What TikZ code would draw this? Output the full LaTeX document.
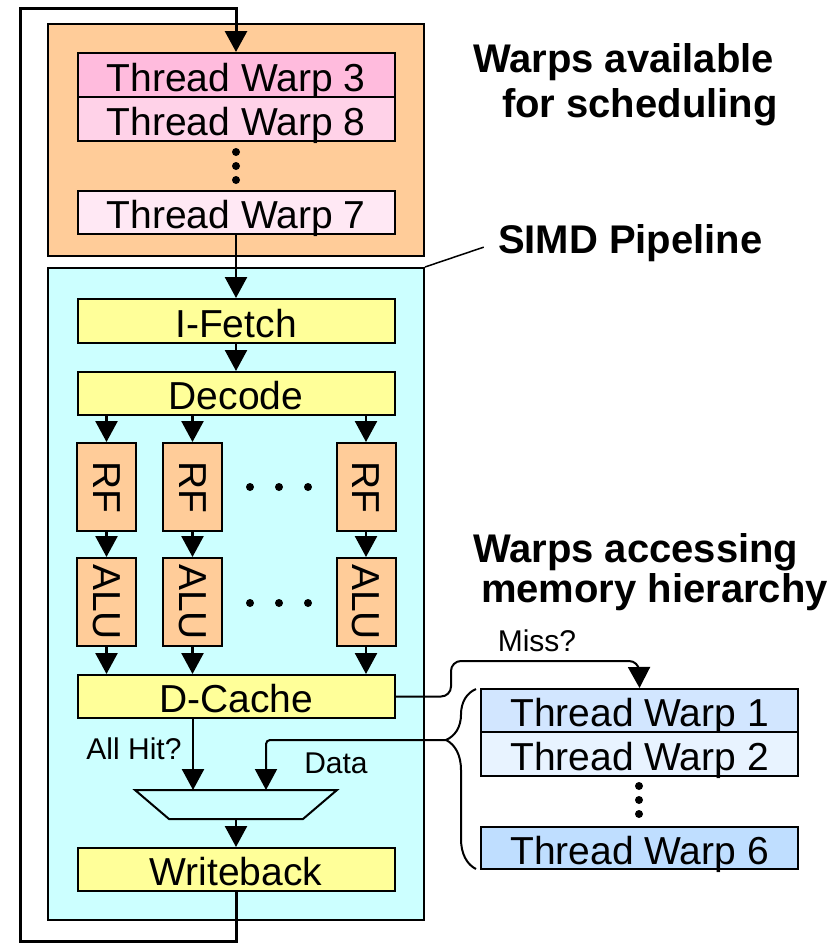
\documentclass[tikz,border=0pt]{standalone}
\usepackage{fontspec}
\setmainfont{Liberation Sans}
\usetikzlibrary{arrows.meta,decorations.pathreplacing}

\definecolor{poolorange}{RGB}{255,204,153}
\definecolor{pipecyan}{RGB}{204,255,255}
\definecolor{stageyellow}{RGB}{255,255,153}
\definecolor{warpthree}{RGB}{255,187,221}
\definecolor{warpeight}{RGB}{255,210,232}
\definecolor{warpseven}{RGB}{255,232,244}
\definecolor{warpone}{RGB}{210,230,255}
\definecolor{warptwo}{RGB}{232,243,255}
\definecolor{warpsix}{RGB}{191,222,255}

\tikzset{every picture/.style={line width=2pt}}
\tikzset{
  box/.style={draw, line width=2pt, inner sep=0pt, font=\fontsize{39}{46}\selectfont},
  pool/.style={draw, line width=2pt, inner sep=0pt},
  stage/.style={box, fill=stageyellow, minimum width=317pt, minimum height=43pt, text height=32pt, text depth=0pt},
  warp/.style={box, minimum width=317pt, minimum height=44pt, text height=32pt, text depth=0pt},
  lane/.style={box, fill=poolorange, minimum width=59pt, minimum height=88pt},
  conn/.style={line width=2.5pt, -{Triangle[length=21pt,width=22pt]}},
  title/.style={font=\bfseries\fontsize{40}{48}\selectfont, inner sep=0pt},
  note/.style={font=\fontsize{30}{36}\selectfont, inner sep=0pt},
}

\begin{document}
\begin{tikzpicture}[x=1pt,y=1pt,yscale=-1,xscale=1]
\useasboundingbox (0,0) rectangle (839,943);

%Shape: scheduling pool
\node [pool, fill=poolorange, minimum width=376pt, minimum height=232pt] (pool) at (236,140) {};
%Shape: SIMD pipeline
\node [pool, fill=pipecyan, minimum width=376pt, minimum height=652pt] (pipe) at (236,594) {};

% Warps waiting
\node [warp, fill=warpthree] (tw3) at (236,75) {Thread Warp 3};
\node [warp, fill=warpeight] (tw8) at (236,119) {Thread Warp 8};
\node [warp, fill=warpseven, minimum height=43pt] (tw7) at (236,212.5) {Thread Warp 7};
\fill (236,152) circle (4) (236,166) circle (4) (236,180) circle (4);

% Pipeline stages
\node [stage, minimum height=44pt] (ifetch) at (236,321) {I-Fetch};
\node [stage] (decode) at (236,393.5) {Decode};
\node [lane] (rf1) at (106.5,487) {\rotatebox{-90}{RF}};
\node [lane] (rf2) at (192.5,487) {\rotatebox{-90}{RF}};
\node [lane] (rf3) at (366,487) {\rotatebox{-90}{RF}};
\node [lane] (alu1) at (106.5,602) {\rotatebox{-90}{ALU}};
\node [lane] (alu2) at (192.5,602) {\rotatebox{-90}{ALU}};
\node [lane] (alu3) at (366,602) {\rotatebox{-90}{ALU}};
\fill (250,487) circle (4) (279,487) circle (4) (308,487) circle (4);
\fill (250,603) circle (4) (279,603) circle (4) (308,603) circle (4);
\node [stage] (dcache) at (236,696.5) {D-Cache};
\node [stage] (wb) at (236,869.5) {Writeback};

%Shape: mux
\draw [fill=pipecyan] (135,790) -- (337,790) -- (303,819) -- (169,819) -- cycle;
\coordinate (muxhit) at (193,790);
\coordinate (muxdata) at (266,790);
\coordinate (muxout) at (236,819);

% Warps in memory
\node [warp, fill=warpone, minimum height=43pt] (tw1) at (639.5,710.5) {Thread Warp 1};
\node [warp, fill=warptwo] (tw2) at (639.5,754) {Thread Warp 2};
\node [warp, fill=warpsix, minimum height=42pt] (tw6) at (639.5,848) {Thread Warp 6};
\fill (639,786) circle (4) (639,800) circle (4) (639,814) circle (4);
\draw [decorate, decoration={brace, amplitude=30pt, aspect=0.717}] (476,869) -- (476,689);
\coordinate (bracetip) at (446,740);

% Text Node
\node [title, anchor=base west] (availa) at (472,72) {Warps available};
\node [title, anchor=base west] (availb) at (501,117) {for scheduling};
\node [title, anchor=base west] (simd) at (497,253) {SIMD Pipeline};
\node [title, anchor=base west] (accessa) at (472,562) {Warps accessing};
\node [title, anchor=base west] (accessb) at (480,602) {memory hierarchy};
\node [note] (hitlbl) at (134,749) {All Hit?};
\node [note] (datalbl) at (336,763) {Data};
\node [note] (misslbl) at (537,641) {Miss?};

% Connectors
\draw [conn, line width=3pt] (wb.south) |- (20,941) coordinate (loopbl) -- (20,8) coordinate (looptl) -| (tw3.north);
\draw [conn] (tw7.south) -- (ifetch.north);
\draw [conn] (ifetch.south) -- (decode.north);
\draw [conn] (decode.south -| rf1) -- (rf1.north);
\draw [conn] (decode.south -| rf2) -- (rf2.north);
\draw [conn] (decode.south -| rf3) -- (rf3.north);
\draw [conn] (rf1.south) -- (alu1.north);
\draw [conn] (rf2.south) -- (alu2.north);
\draw [conn] (rf3.south) -- (alu3.north);
\draw [conn] (alu1.south) -- (alu1.south |- dcache.north);
\draw [conn] (alu2.south) -- (alu2.south |- dcache.north);
\draw [conn] (alu3.south) -- (alu3.south |- dcache.north);
\draw [conn] (dcache.south -| muxhit) -- (muxhit);
\draw [conn, line width=2pt, rounded corners=4] (bracetip) -| (muxdata);
\draw [conn] (muxout) -- (wb.north);
\draw [conn, line width=2pt, rounded corners=10] (dcache.east) -- (451,696.5) -- (451,661) -- (639,661) -- (tw1.north);
\draw [line width=1.5pt, shorten >=14pt] (pipe.north east) -- (simd.west);

\end{tikzpicture}
\end{document}
